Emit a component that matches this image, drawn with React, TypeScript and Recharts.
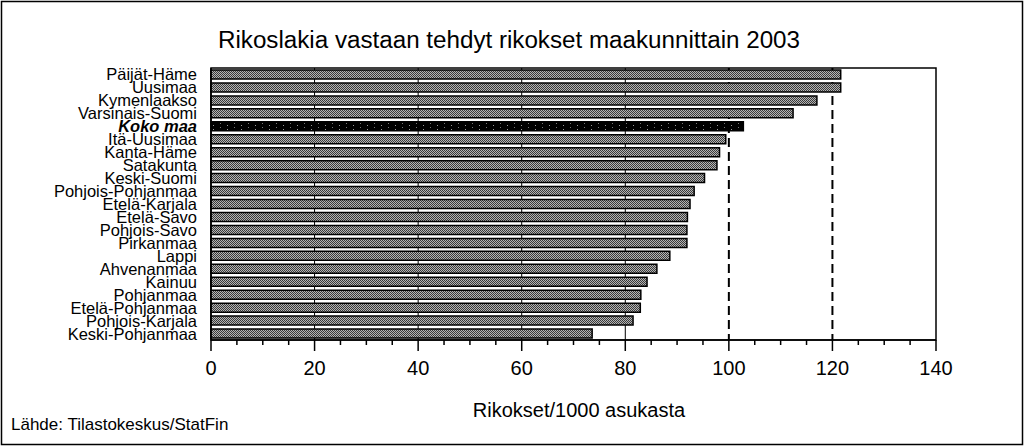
import React from 'react';
import { BarChart, Bar, XAxis, YAxis, CartesianGrid, Cell, ReferenceArea } from 'recharts';

// Rikokset / 1000 asukasta, 2003
const regions = [
  'Päijät-Häme',
  'Uusimaa',
  'Kymenlaakso',
  'Varsinais-Suomi',
  'Koko maa',
  'Itä-Uusimaa',
  'Kanta-Häme',
  'Satakunta',
  'Keski-Suomi',
  'Pohjois-Pohjanmaa',
  'Etelä-Karjala',
  'Etelä-Savo',
  'Pohjois-Savo',
  'Pirkanmaa',
  'Lappi',
  'Ahvenanmaa',
  'Kainuu',
  'Pohjanmaa',
  'Etelä-Pohjanmaa',
  'Pohjois-Karjala',
  'Keski-Pohjanmaa',
];

const rates = [
  121.6, 121.6, 117.0, 112.4, 102.8, 99.4, 98.2, 97.7, 95.3, 93.3, 92.5,
  92.0, 91.9, 91.9, 88.6, 86.1, 84.2, 83.0, 82.9, 81.5, 73.6,
];

const TOTAL = 'Koko maa';

const xTicks = [
  0, 5, 10, 15, 20, 25, 30, 35, 40, 45, 50, 55, 60, 65, 70,
  75, 80, 85, 90, 95, 100, 105, 110, 115, 120, 125, 130, 135, 140,
];
const solidGrid = [20, 40, 60, 80];
const dashedGrid = [100, 120];

const FONT = '"Liberation Sans", Arial, Helvetica, sans-serif';

const data = regions.map((name, i) => ({ name, value: rates[i] }));

// y-akselin nimet, koko maa lihavoituna kursiivilla
function RegionTick(props: any) {
  const { x, y, payload } = props;
  const total = payload.value === TOTAL;
  return (
    <text
      x={x - 14}
      y={y + 6}
      textAnchor="end"
      fontFamily={FONT}
      fontSize={16.5}
      fontWeight={total ? 'bold' : 'normal'}
      fontStyle={total ? 'italic' : 'normal'}
      fill="#000"
    >
      {payload.value}
    </text>
  );
}

// x-akseli: pääjaot 20 välein, apujaot 5 välein
function ValueTick(props: any) {
  const { x, y, payload } = props;
  const major = payload.value % 20 === 0;
  return (
    <g>
      <line x1={x} y1={y} x2={x} y2={y + (major ? 11 : 5)} stroke="#000" strokeWidth={1.5} />
      {major && (
        <text x={x} y={y + 35} textAnchor="middle" fontFamily={FONT} fontSize={20} fill="#000">
          {payload.value}
        </text>
      )}
    </g>
  );
}

export default function App() {
  return (
    <div style={{ position: 'absolute', left: 0, top: 0, width: 1024, height: 446, background: '#fff' }}>
      <svg width={0} height={0} style={{ position: 'absolute' }}>
        <defs>
          <pattern id="stipple" width={2} height={2} patternUnits="userSpaceOnUse">
            <rect width={2} height={2} fill="#b4b4b4" />
            <rect width={1} height={1} fill="#3a3a3a" />
            <rect x={1} y={1} width={1} height={1} fill="#3a3a3a" />
          </pattern>
          <pattern id="dark" width={14} height={4} patternUnits="userSpaceOnUse">
            <rect width={14} height={4} fill="#000" />
            <rect x={3} y={1} width={1} height={1} fill="#999" />
            <rect x={10} y={3} width={1} height={1} fill="#777" />
          </pattern>
        </defs>
      </svg>

      <BarChart
        width={1024}
        height={446}
        data={data}
        layout="vertical"
        margin={{ top: 68, right: 88, bottom: 76, left: 0 }}
        barSize={9}
      >
        <CartesianGrid horizontal={false} verticalValues={solidGrid} stroke="#000" strokeWidth={1} />
        <CartesianGrid
          horizontal={false}
          verticalValues={dashedGrid}
          stroke="#000"
          strokeWidth={2}
          strokeDasharray="9 5"
        />
        <XAxis
          type="number"
          domain={[0, 140]}
          ticks={xTicks}
          interval={0}
          height={30}
          tickSize={0}
          tickMargin={0}
          tickLine={false}
          axisLine={{ stroke: '#000', strokeWidth: 1.5 }}
          tick={<ValueTick />}
        />
        <YAxis
          type="category"
          dataKey="name"
          width={211}
          interval={0}
          tickSize={0}
          tickMargin={0}
          tickLine={false}
          axisLine={{ stroke: '#000', strokeWidth: 1.5 }}
          tick={<RegionTick />}
        />
        <Bar dataKey="value" stroke="#000" strokeWidth={1.5} isAnimationActive={false}>
          {data.map((d) => (
            <Cell key={d.name} fill={d.name === TOTAL ? 'url(#dark)' : 'url(#stipple)'} />
          ))}
        </Bar>
        <ReferenceArea x1={0} x2={140} fill="none" stroke="#000" strokeWidth={1.5} ifOverflow="visible" />
      </BarChart>

      <svg
        width={1024}
        height={446}
        style={{ position: 'absolute', left: 0, top: 0, pointerEvents: 'none' }}
      >
        <text
          x={509}
          y={48}
          textAnchor="middle"
          fontFamily={FONT}
          fontSize={23}
          textLength={582}
          lengthAdjust="spacingAndGlyphs"
          fill="#000"
        >
          Rikoslakia vastaan tehdyt rikokset maakunnittain 2003
        </text>
        <text x={579} y={417} textAnchor="middle" fontFamily={FONT} fontSize={20} fill="#000">
          Rikokset/1000 asukasta
        </text>
        <text x={11} y={430} fontFamily={FONT} fontSize={17} fill="#000">
          Lähde: Tilastokeskus/StatFin
        </text>
        <rect x={1.5} y={1.5} width={1021} height={443} fill="none" stroke="#000" strokeWidth={1.5} />
      </svg>
    </div>
  );
}
